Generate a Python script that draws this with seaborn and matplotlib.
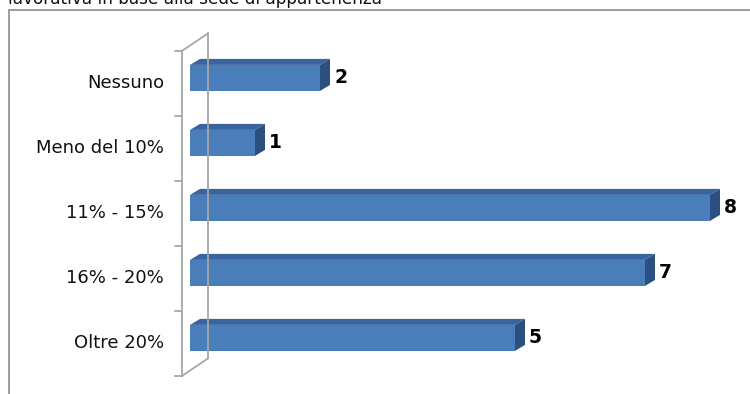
import matplotlib
matplotlib.use("Agg")
import matplotlib.pyplot as plt
import matplotlib.transforms as mtransforms
from matplotlib.patches import Polygon, Rectangle
from matplotlib.lines import Line2D
import seaborn as sns
import pandas as pd

# Data
categories = ["Nessuno", "Meno del 10%", "11% - 15%", "16% - 20%", "Oltre 20%"]
values = [2, 1, 8, 7, 5]
title_text = "lavorativa in base alla sede di appartenenza"

df = pd.DataFrame({"categoria": categories, "valore": values})

sns.set_theme(style="white")
plt.rcParams["font.family"] = ["DejaVu Sans"]

W, H, DPI = 750, 394, 100
fig = plt.figure(figsize=(W / DPI, H / DPI), dpi=DPI)

# plot area in pixel terms: x0=190, 65 px per unit; category centres 78 + 65*i
px_per_unit = 65.0
left_px, top_px = 190.0, 45.4
xmax = 8.5
band = 65.0
ax_w = xmax * px_per_unit
ax_h = band * 5
ax = fig.add_axes([left_px / W, 1 - (top_px + ax_h) / H, ax_w / W, ax_h / H])

front = "#4A7EBB"
topc = "#3A649E"
sidec = "#2B4F7E"

sns.barplot(data=df, x="valore", y="categoria", order=categories, orient="h",
            color=front, width=0.4, saturation=1, ax=ax, zorder=3)
ax.set_xlim(0, xmax)
ax.set_ylim(4.5, -0.5)
ax.set_xlabel("")
ax.set_ylabel("")
ax.set_xticks([])
for s in ax.spines.values():
    s.set_visible(False)
ax.patch.set_alpha(0)

# 3D depth of the bars (pixels)
ddx, ddy = 10, 6
fig.canvas.draw()
ident = mtransforms.IdentityTransform()
for p, v in zip(ax.patches, values):
    p.set_edgecolor("none")
    x0, y0 = p.get_x(), p.get_y()
    x1, y1 = x0 + p.get_width(), y0 + p.get_height()
    (X0, Yb), (X1, Yt) = ax.transData.transform([(x0, y1), (x1, y0)])
    # display coords: Yt is top (larger), Yb is bottom
    top_face = [(X0, Yt), (X1, Yt), (X1 + ddx, Yt + ddy), (X0 + ddx, Yt + ddy)]
    side_face = [(X1, Yb), (X1, Yt), (X1 + ddx, Yt + ddy), (X1 + ddx, Yb + ddy)]
    fig.patches.append(Polygon(top_face, closed=True, facecolor=topc,
                               edgecolor="none", transform=ident, figure=fig))
    fig.patches.append(Polygon(side_face, closed=True, facecolor=sidec,
                               edgecolor="none", transform=ident, figure=fig))
    fig.text((X1 + ddx + 4) / W, (Yb + Yt) / 2 / H, str(v), ha="left",
             va="center", fontsize=13.5, fontweight="bold", color="black")

# category axis (front) and back wall
wall = "#A6A6A6"
ax_left = left_px - 8
ax_top = H - (top_px + 5.5)
ax_bot = ax_top - ax_h
back_dx, back_dy = 26, 17.5
fig.lines.append(Line2D([ax_left / W, ax_left / W], [ax_top / H, ax_bot / H],
                        transform=fig.transFigure, color=wall, lw=1.3))
fig.lines.append(Line2D([(ax_left + back_dx) / W] * 2,
                        [(ax_top + back_dy) / H, (ax_bot + back_dy) / H],
                        transform=fig.transFigure, color=wall, lw=1.3))
for yy in (ax_top, ax_bot):
    fig.lines.append(Line2D([ax_left / W, (ax_left + back_dx) / W],
                            [yy / H, (yy + back_dy) / H],
                            transform=fig.transFigure, color=wall, lw=1.3))
for k in range(len(categories) + 1):
    yy = ax_top - k * band
    fig.lines.append(Line2D([(ax_left - 7) / W, ax_left / W], [yy / H, yy / H],
                            transform=fig.transFigure, color=wall, lw=1.3))

# category labels at the centres of the axis bands
ax.set_yticks([])
for i, c in enumerate(categories):
    yy = ax_top - (i + 0.5) * band
    fig.text((ax_left - 18) / W, yy / H, c, ha="right", va="center",
             fontsize=13, color="#111111")

# outer chart frame
fig.patches.append(Rectangle((8.5 / W, -0.05), 1.1, 1 - 10 / H + 0.05,
                             transform=fig.transFigure, fill=False,
                             edgecolor="#8C8C8C", lw=1.2, figure=fig))

# title, partly above the visible area
fig.text(8 / W, 1 - 4.0 / H, title_text, ha="left", va="baseline",
         fontsize=12.2, color="#111111")

fig.savefig("out.png", dpi=DPI)
